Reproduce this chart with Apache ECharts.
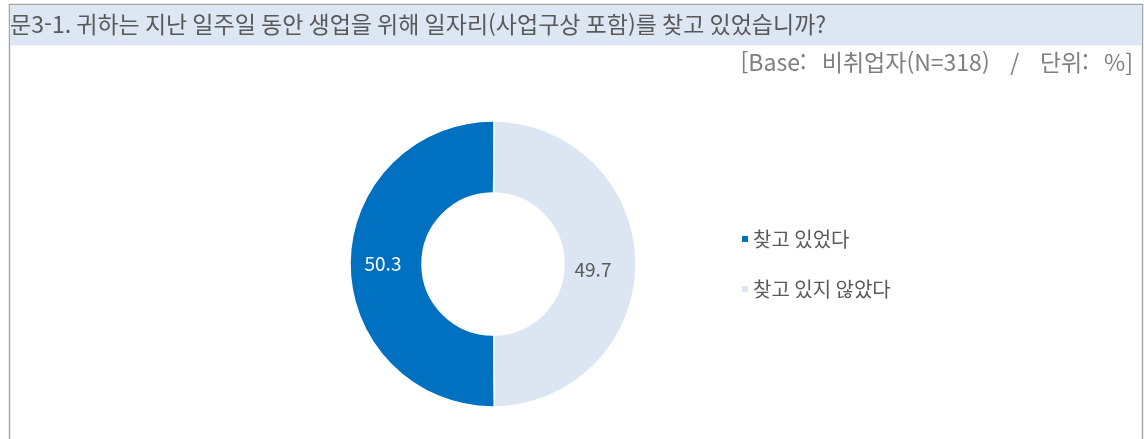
<!DOCTYPE html>
<html lang="ko">
<head>
  <meta charset="UTF-8">
  <title>문3-1 일자리 탐색 여부</title>
  <script src="https://cdn.jsdelivr.net/npm/echarts@6/dist/echarts.min.js"></script>
  <style>
    html, body { margin: 0; padding: 0; background: #fff; }
    #main { width: 1144px; height: 439px; }
  </style>
</head>
<body>
  <div id="main"></div>
  <script>
    // 데이터
    var questionText = '문3-1. 귀하는 지난 일주일 동안 생업을 위해 일자리(사업구상 포함)를 찾고 있었습니까?';
    var baseText = '[Base:   비취업자(N=318)    /    단위:   %]';
    var categories = ['찾고 있었다', '찾고 있지 않았다'];
    var values = [50.3, 49.7];
    var colors = ['#0070c0', '#dce6f2'];
    var labelColors = ['#ffffff', '#595959'];

    var FONT = '"Noto Sans CJK KR", "Noto Sans", sans-serif';

    var myChart = echarts.init(document.getElementById('main'));

    var pieData = categories.map(function (name, i) {
      return {
        name: name,
        value: values[i],
        itemStyle: { color: colors[i] },
        label: { color: labelColors[i] }
      };
    });
    // 49.7 라벨은 원본에서 약간 왼쪽 아래에 있음
    pieData[1].label.offset = [-10, 6];

    var option = {
      animation: false,
      graphic: [
        {
          type: 'rect',
          z: -10,
          shape: { x: 9.5, y: 4.5, width: 1133, height: 480 },
          style: { fill: '#ffffff', stroke: '#a6a6a6', lineWidth: 1.5 }
        },
        {
          type: 'rect',
          z: -9,
          shape: { x: 10.5, y: 5.5, width: 1131, height: 40 },
          style: { fill: '#dde7f3' }
        }
      ],
      title: [
        {
          text: questionText,
          left: 10,
          top: 13,
          padding: 0,
          textStyle: { fontFamily: FONT, fontSize: 23, fontWeight: 'normal', color: '#595959' }
        },
        {
          text: baseText,
          right: 11,
          top: 51,
          padding: 0,
          textStyle: { fontFamily: FONT, fontSize: 23, fontWeight: 'normal', color: '#7f7f7f' }
        }
      ],
      legend: {
        orient: 'vertical',
        left: 740,
        top: 229,
        padding: 0,
        icon: 'rect',
        itemWidth: 8,
        itemHeight: 8,
        itemGap: 30,
        data: categories,
        textStyle: { fontFamily: FONT, fontSize: 20, color: '#595959', padding: [0, 0, 0, -1] }
      },
      series: [
        {
          type: 'pie',
          center: [493, 264],
          radius: [71, 143],
          startAngle: 89.5,
          clockwise: false,
          avoidLabelOverlap: false,
          itemStyle: { borderColor: '#ffffff', borderWidth: 1.5 },
          label: {
            show: true,
            position: 'inside',
            formatter: '{c}',
            fontFamily: FONT,
            fontSize: 19
          },
          labelLine: { show: false },
          emphasis: { disabled: true },
          data: pieData
        }
      ]
    };

    myChart.setOption(option);
  </script>
</body>
</html>
